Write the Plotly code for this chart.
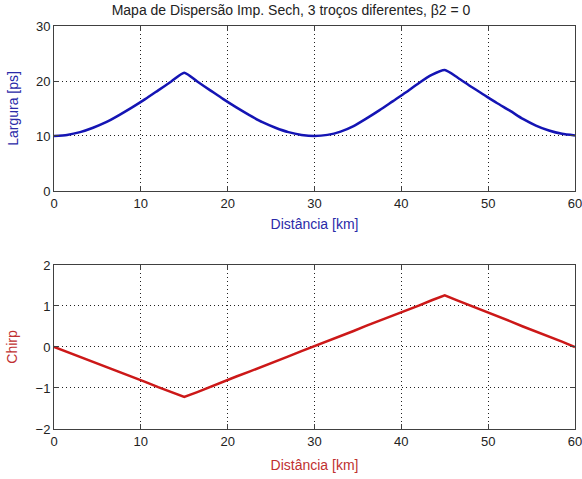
import plotly.graph_objects as go
from plotly.subplots import make_subplots

dist_km = [0, 1.5, 3, 4.5, 6, 7.5, 9, 10.5, 12, 13.5, 15,
           16.5, 18, 19.5, 21, 22.5, 24, 25.5, 27, 28.5, 30,
           31.5, 33, 34.5, 36, 37.5, 39, 40.5, 42, 43.5, 45,
           46.5, 48, 49.5, 51, 52.5, 54, 55.5, 57, 58.5, 60]

largura_ps = [10.0, 10.2, 10.7, 11.5, 12.5, 13.8, 15.2, 16.7, 18.3, 19.9, 21.5,
              19.9, 18.3, 16.7, 15.2, 13.8, 12.5, 11.5, 10.7, 10.2, 10.0,
              10.2, 10.8, 11.8, 13.2, 14.7, 16.3, 17.9, 19.6, 21.1, 22.0,
              20.6, 19.0, 17.5, 16.0, 14.6, 13.1, 11.9, 11.0, 10.4, 10.1]

chirp = [0.00, -0.12, -0.24, -0.37, -0.49, -0.61, -0.73, -0.85, -0.98, -1.10, -1.22,
         -1.10, -0.97, -0.85, -0.72, -0.60, -0.48, -0.35, -0.23, -0.10, 0.02,
         0.15, 0.27, 0.39, 0.52, 0.64, 0.77, 0.89, 1.01, 1.14, 1.26,
         1.13, 1.01, 0.88, 0.76, 0.63, 0.50, 0.38, 0.25, 0.13, 0.00]

title_text = "Mapa de Dispersão Imp. Sech, 3 troços diferentes, β2 = 0"
x_ticks = [0, 10, 20, 30, 40, 50, 60]
y1_ticks = [0, 10, 20, 30]
y2_ticks = [-2, -1, 0, 1, 2]

BLUE = "#1414b4"
RED = "#cc1818"
FONT = "Liberation Sans, Arial, sans-serif"

fig = make_subplots(rows=2, cols=1)
fig.add_trace(go.Scatter(x=dist_km, y=largura_ps, mode="lines",
                         line=dict(color=BLUE, width=2.5, shape="spline", smoothing=0.6),
                         showlegend=False), row=1, col=1)
fig.add_trace(go.Scatter(x=dist_km, y=chirp, mode="lines",
                         line=dict(color=RED, width=2.5), showlegend=False), row=2, col=1)

axis_common = dict(showline=True, linecolor="#404040", linewidth=1, mirror="ticks",
                   ticks="inside", ticklen=5, tickcolor="#404040",
                   showgrid=True, gridcolor="#202020", gridwidth=1, griddash="1px,3px",
                   zeroline=False, ticklabeloverflow="allow", automargin=False,
                   tickfont=dict(family=FONT, size=13, color="#222222"))

fig.update_xaxes(**axis_common, range=[-0.0001, 60.0001], tickvals=x_ticks)
fig.update_yaxes(**axis_common)

fig.update_layout(
    xaxis=dict(domain=[0, 1], title=dict(text="Distância [km]", font=dict(family=FONT, size=14, color="#2a2aa8"), standoff=9)),
    yaxis=dict(domain=[0.5906, 1], range=[0, 30], tickvals=y1_ticks,
               title=dict(text="Largura [ps]", font=dict(family=FONT, size=14, color="#2a2aa8"), standoff=14)),
    xaxis2=dict(domain=[0, 1], title=dict(text="Distância [km]", font=dict(family=FONT, size=14, color="#c03030"), standoff=12)),
    yaxis2=dict(domain=[0, 0.407], range=[-2, 2], tickvals=y2_ticks,
                title=dict(text="Chirp", font=dict(family=FONT, size=14, color="#c03030"), standoff=14)),
    width=582, height=479,
    margin=dict(l=54, r=7, t=26, b=50),
    paper_bgcolor="white", plot_bgcolor="white",
    title=dict(text=title_text, xref="container", x=0.5, xanchor="center", y=0.978, yanchor="middle",
               font=dict(family=FONT, size=14, color="#222222")),
    font=dict(family=FONT),
)

fig.write_html("out.html")
